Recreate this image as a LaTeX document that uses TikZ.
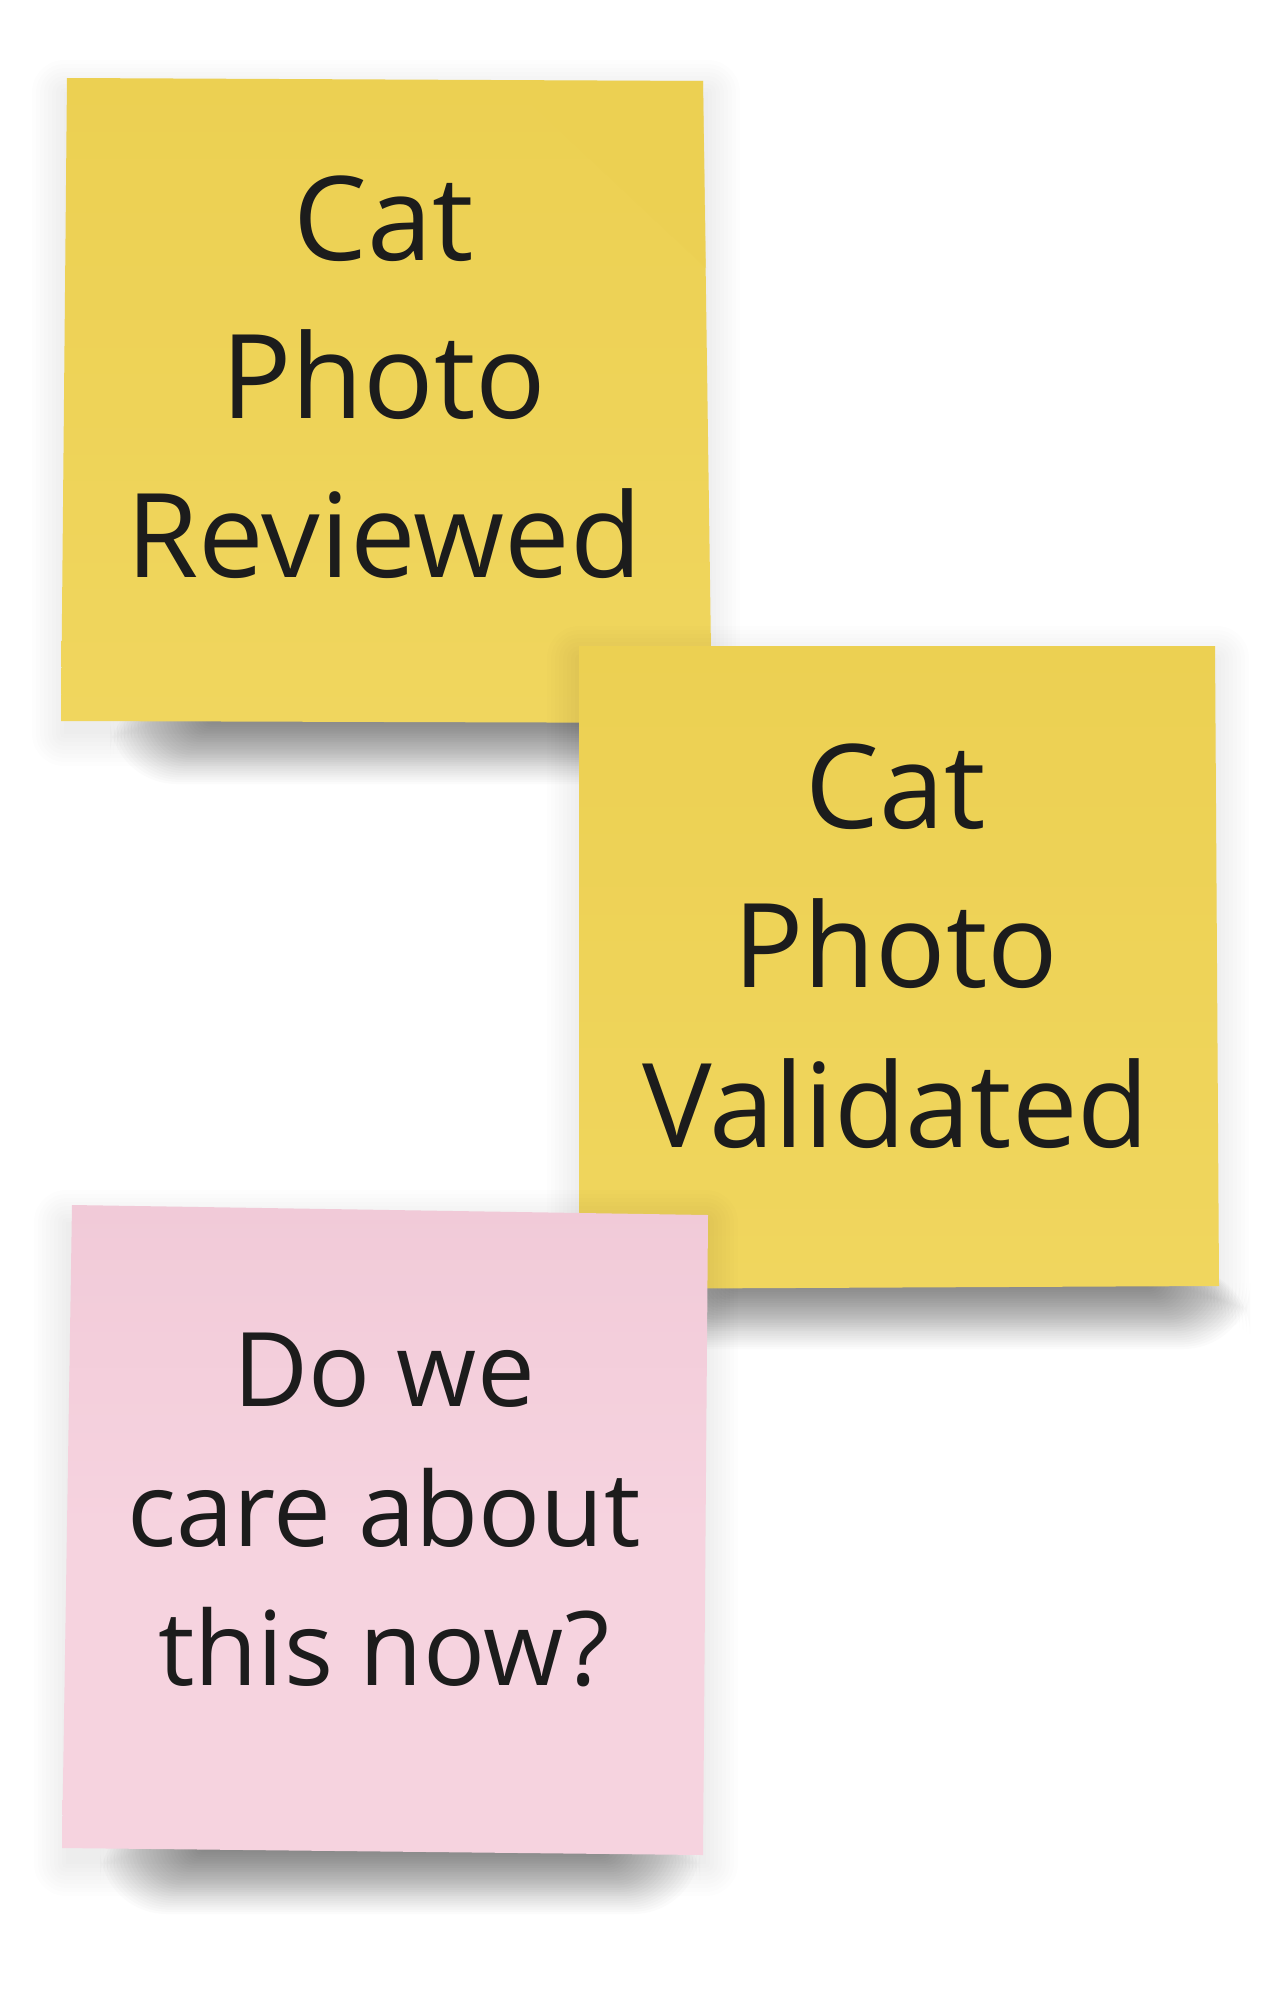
\documentclass[tikz,border=0pt]{standalone}
\usepackage{fontspec}
\setmainfont{Open Sans}
\definecolor{stickyY}{HTML}{F0D65E}
\definecolor{stickyYtop}{HTML}{ECD052}
\definecolor{stickyP}{HTML}{F6D3DF}
\definecolor{stickyPtop}{HTML}{F1CAD8}
\definecolor{inkc}{HTML}{1C1C1C}
\tikzset{
  shadowlayer/.style={fill=black, opacity=0.016},
  halolayer/.style={fill=black, opacity=0.007},
  ytxt/.style={text=inkc, font=\fontsize{117}{117}\selectfont, anchor=base, inner sep=0pt},
  ptxt/.style={text=inkc, font=\fontsize{103}{103}\selectfont, anchor=base, inner sep=0pt},
  yellownote/.style={top color=stickyYtop, bottom color=stickyY},
  pinknote/.style={top color=stickyPtop, bottom color=stickyP, middle color=stickyP},
}
% #1,#2 = x range, #3 = top, #4 = bottom of the dark core
\newcommand\curlshadow[4]{%
  \foreach \i [evaluate=\i as \rr using 2.2*\i+0.5] in {0,...,30}
    \fill[shadowlayer, rounded corners=\rr] ({#1-3.5*\i},{#3}) rectangle ({#2+3.5*\i},{#4+2.2*\i});}
\newcommand\haloshadow[4]{%
  \foreach \i [evaluate=\i as \rr using 4*\i+0.5] in {0,...,8}
    \fill[halolayer, rounded corners=\rr] ({#1-4*\i},{#3-4*\i+12}) rectangle ({#2+4*\i},{#4+4*\i+12});}
\begin{document}
\begin{tikzpicture}[x=1pt,y=-1pt]
\path[use as bounding box, fill=white] (0,0) rectangle (1283,1999);

% ---------- note 1 (yellow, top left)
\coordinate (a1) at (67,78);
\coordinate (b1) at (703,81);
\coordinate (c1) at (712,723);
\coordinate (d1) at (61,721);
\haloshadow{64}{708}{80}{722}
\curlshadow{215}{640}{690}{718}
\shade[yellownote] (a1) -- (b1) -- (c1) -- (d1) -- cycle;
\fill[stickyYtop, opacity=0.5] (507,81) -- (b1) -- (706,268) -- cycle;
\node[ytxt] (t1a) at (384,260) {Cat};
\node[ytxt] (t1b) at (384,418) {Photo};
\node[ytxt] (t1c) at (384,577) {Reviewed};

% ---------- note 2 (yellow, right)
\coordinate (a2) at (579,646);
\coordinate (b2) at (1215,646);
\coordinate (c2) at (1219,1286);
\coordinate (d2) at (579,1289);
\haloshadow{579}{1217}{646}{1287}
\curlshadow{740}{1145}{1268}{1283}
\shade[yellownote] (a2) -- (b2) -- (c2) -- (d2) -- cycle;
\node[ytxt] (t2a) at (896,828) {Cat};
\node[ytxt] (t2b) at (896,987) {Photo};
\node[ytxt] (t2c) at (896,1147) {Validated};

% ---------- note 3 (pink, bottom left)
\coordinate (a3) at (72,1205);
\coordinate (b3) at (708,1215);
\coordinate (c3) at (703,1855);
\coordinate (d3) at (62,1848);
\haloshadow{66}{706}{1210}{1852}
\curlshadow{205}{595}{1815}{1848}
\shade[pinknote] (a3) -- (b3) -- (c3) -- (d3) -- cycle;
\node[ptxt] (t3a) at (384,1406) {Do we};
\node[ptxt] (t3b) at (384,1546) {care about};
\node[ptxt] (t3c) at (384,1685) {this now?};
\end{tikzpicture}
\end{document}
